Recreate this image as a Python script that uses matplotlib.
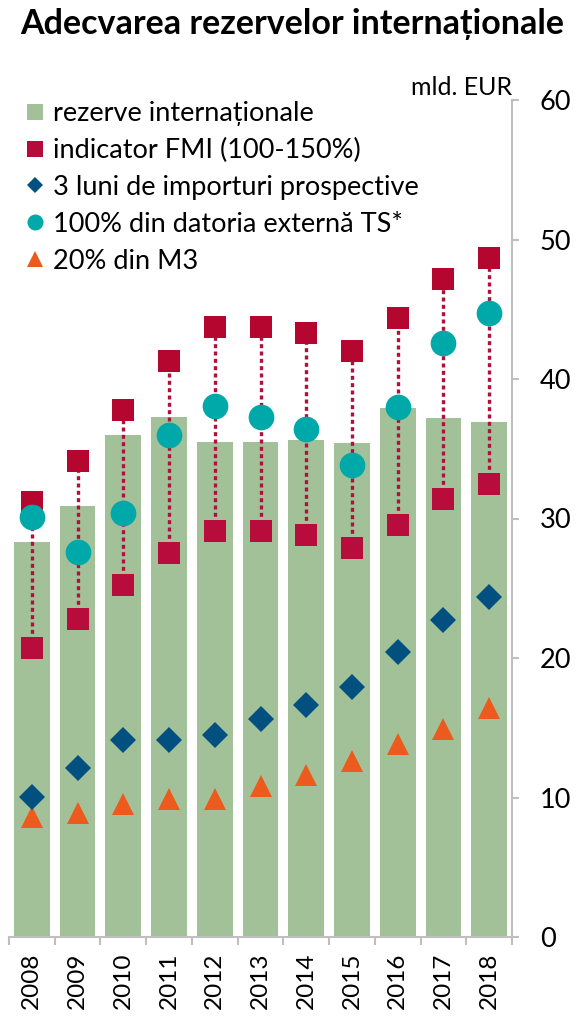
import matplotlib
matplotlib.use("Agg")
import matplotlib.pyplot as plt
from matplotlib.lines import Line2D
import numpy as np

plt.rcParams["font.family"] = ["Lato", "DejaVu Sans"]

# ── Data (mld. EUR) ────────────────────────────────────────────────────────
years = ["2008", "2009", "2010", "2011", "2012", "2013",
         "2014", "2015", "2016", "2017", "2018"]
rezerve = [28.3, 30.9, 36.0, 37.3, 35.5, 35.5, 35.6, 35.4, 37.9, 37.2, 36.9]
fmi_low = [20.7, 22.8, 25.2, 27.5, 29.1, 29.1, 28.8, 27.9, 29.5, 31.4, 32.5]
fmi_high = [31.2, 34.1, 37.8, 41.3, 43.7, 43.7, 43.3, 42.0, 44.4, 47.2, 48.7]
importuri = [10.05, 12.1, 14.1, 14.1, 14.5, 15.6, 16.65, 17.95, 20.4, 22.7, 24.4]
datoria = [30.1, 27.6, 30.4, 36.0, 38.1, 37.3, 36.4, 33.8, 38.0, 42.6, 44.7]
m3 = [8.6, 8.9, 9.5, 9.9, 9.9, 10.8, 11.6, 12.6, 13.8, 14.9, 16.4]

labels = ["rezerve internaționale", "indicator FMI (100-150%)",
          "3 luni de importuri prospective", "100% din datoria externă TS*",
          "20% din M3"]

c_bar = "#a3c199"
c_sq_hi = "#b4062f"
c_sq_lo = "#b80c3d"
c_dot = "#b0103e"
c_dia = "#01507f"
c_circ = "#00a9a9"
c_tri = "#ec5a1e"
c_axis = "#bfbfbf"

x = np.arange(len(years))

fig = plt.figure(figsize=(5.77, 10.18), dpi=100)
ax = fig.add_axes([9 / 577, 1 - 937 / 1018, 503 / 577, 837 / 1018])

ax.bar(x, rezerve, width=0.78, color=c_bar, zorder=1)

# dotted range FMI
ax.vlines(x, fmi_low, fmi_high, colors=c_dot, linewidth=2.4,
          linestyles=(0, (1.2, 1.0)), zorder=2)

ax.plot(x, m3, linestyle="none", marker="^", markersize=16.5,
        color=c_tri, markeredgewidth=0, zorder=3)
ax.plot(x, importuri, linestyle="none", marker="D", markersize=13.5,
        color=c_dia, markeredgewidth=0, zorder=3)
ax.plot(x, fmi_low, linestyle="none", marker="s", markersize=16.5,
        color=c_sq_lo, markeredgewidth=0, zorder=4)
ax.plot(x, fmi_high, linestyle="none", marker="s", markersize=16.5,
        color=c_sq_hi, markeredgewidth=0, zorder=4)
ax.plot(x, datoria, linestyle="none", marker="o", markersize=18.5,
        color=c_circ, markeredgewidth=0, zorder=5)

# ── Axes formatting ────────────────────────────────────────────────────────
ax.set_xlim(-0.5, len(years) - 0.5)
ax.set_ylim(0, 60)
ax.yaxis.tick_right()
ax.set_yticks(range(0, 61, 10))
ax.tick_params(axis="y", which="major", length=5, width=1.5, color=c_axis,
               labelsize=19.5, pad=15)
ax.set_xticks(x)
ax.set_xticklabels(years, rotation=90, fontsize=17.5)
ax.set_xticks(np.arange(-0.5, len(years)), minor=True)
ax.tick_params(axis="x", which="major", length=0, pad=11)
ax.tick_params(axis="x", which="minor", length=6, width=1.5, color=c_axis)

for s in ["left", "top"]:
    ax.spines[s].set_visible(False)
for s in ["right", "bottom"]:
    ax.spines[s].set_color(c_axis)
    ax.spines[s].set_linewidth(1.5)

# ── Legend ────────────────────────────────────────────────────────────────
handles = [
    Line2D([0], [0], linestyle="none", marker="s", markersize=11.5,
           color=c_bar, markeredgewidth=0),
    Line2D([0], [0], linestyle="none", marker="s", markersize=11.5,
           color="#b30b3c", markeredgewidth=0),
    Line2D([0], [0], linestyle="none", marker="D", markersize=8,
           color=c_dia, markeredgewidth=0),
    Line2D([0], [0], linestyle="none", marker="o", markersize=11.5,
           color=c_circ, markeredgewidth=0),
    Line2D([0], [0], linestyle="none", marker="^", markersize=12,
           color=c_tri, markeredgewidth=0),
]
fig.legend(handles, labels, loc="upper left",
           bbox_to_anchor=(24 / 577, 1 - 101 / 1018), frameon=False,
           fontsize=19.5, handlelength=0.8, handletextpad=0.26,
           labelspacing=0.44, borderaxespad=0, borderpad=0)

fig.text(20 / 577, 1 - 34 / 1018, "Adecvarea rezervelor internaționale",
         fontsize=24.5, fontweight="bold", va="baseline", ha="left")
fig.text(512 / 577, 1 - 95 / 1018, "mld. EUR", fontsize=18,
         va="baseline", ha="right")

plt.savefig("out.png", dpi=100)
plt.close()
